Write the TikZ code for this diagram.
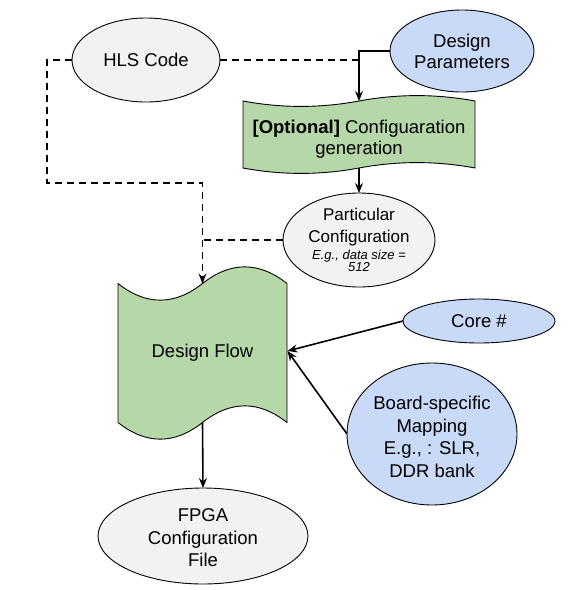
\documentclass[tikz,border=0pt]{standalone}
\usepackage{fontspec}
\setmainfont{Liberation Sans}
\usetikzlibrary{arrows.meta,shapes.geometric,calc}
\definecolor{greyfill}{HTML}{F2F2F2}
\definecolor{bluefill}{HTML}{C9DAF8}
\definecolor{greenfill}{HTML}{B6D7A8}
\begin{document}
\begin{tikzpicture}[x=1pt,y=-1pt,
  oval/.style={ellipse, draw=black, line width=0.9pt, inner sep=0pt, outer sep=0pt},
  greyoval/.style={oval, fill=greyfill},
  blueoval/.style={oval, fill=bluefill},
  tapebox/.style={draw=black, line width=0.9pt, fill=greenfill},
  txt/.style={align=center, font=\fontsize{18.5}{22.5}\selectfont, inner sep=0pt},
  conn/.style={line width=1.6pt, -{Stealth[length=10pt,width=8pt,inset=3.5pt]}},
  dashline/.style={line width=1.6pt, dash pattern=on 7pt off 5pt},
  dashconn/.style={conn, dash pattern=on 7pt off 5pt},
  ]
\useasboundingbox (0,0) rectangle (575,590);

% tape shapes
\draw[tapebox] (243,101) .. controls (281.67,108.2) and (320.33,108.2) .. (359,101)
  .. controls (397.67,93.8) and (436.33,93.8) .. (475,101) -- (475,168)
  .. controls (436.33,160.8) and (397.67,160.8) .. (359,168)
  .. controls (320.33,175.2) and (281.67,175.2) .. (243,168) -- cycle;
\node[txt, font=\fontsize{18.5}{21}\selectfont] (opt) at (359,139) {\textbf{[Optional]} Configuaration\\generation};
\coordinate (opttop) at (359,101);
\coordinate (optbot) at (359,168);

\draw[tapebox] (118,283.5) .. controls (146.17,305.7) and (174.33,305.7) .. (202.5,283.5)
  .. controls (230.67,261.3) and (258.83,261.3) .. (287,283.5) -- (287,422.5)
  .. controls (258.83,400.3) and (230.67,400.3) .. (202.5,422.5)
  .. controls (174.33,444.7) and (146.17,444.7) .. (118,422.5) -- cycle;
\node[txt] (df) at (202.5,353) {Design Flow};
\coordinate (dftop) at (202.5,283.5);
\coordinate (dfbot) at (202.5,422.5);
\coordinate (dfright) at (287.5,351);

% ellipses
\node[greyoval, minimum width=148pt, minimum height=84pt] (hls) at (146,60) {};
\node[txt] (hlst) at (hls.center) {HLS Code};
\node[blueoval, minimum width=144pt, minimum height=82pt] (dp) at (462,51) {};
\node[txt, font=\fontsize{18.5}{21}\selectfont] (dpt) at (dp.center) {Design\\Parameters};
\node[greyoval, minimum width=152pt, minimum height=94pt] (pc) at (359,240) {};
\node[align=center, inner sep=0pt] (pct) at ($(pc.center)+(0,0)$) {\fontsize{17}{15}\selectfont Particular\\[8pt]
  \fontsize{17}{15}\selectfont Configuration\\[3pt]
  \fontsize{13}{15}\selectfont\itshape E.g., data size =\\[0pt]
  \fontsize{13}{15}\selectfont\itshape 512};
\node[blueoval, minimum width=152pt, minimum height=44pt] (core) at (479,321) {};
\node[txt] (coret) at (core.center) {Core \#};
\node[blueoval, minimum width=170pt, minimum height=142pt] (board) at (432,434) {};
\node[txt] (boardt) at ($(board.center)+(0,3)$) {Board-specific\\Mapping\\E.g., : SLR,\\DDR bank};
\node[greyoval, minimum width=210pt, minimum height=96pt] (fpga) at (203,536) {};
\node[txt] (fpgat) at ($(fpga.center)+(0,2)$) {FPGA\\Configuration\\File};

% junction points
\coordinate (c1) at (47,183);
\coordinate (j1) at (202.5,240);
\coordinate (j2) at (359,60);

% connectors
\draw[dashconn] (hls.west) -| (c1) -| (dftop);
\draw[dashline] (hls.east) -- (j2);
\draw[dashline] (pc.west) -- (j1);
\draw[conn] (dp.west) -| (opttop);
\draw[conn] (optbot) -- (pc.north);
\draw[conn] (core.west) -- (dfright);
\draw[conn] (board.west) -- (dfright);
\draw[conn] (dfbot) -- (fpga.north);
\end{tikzpicture}
\end{document}
